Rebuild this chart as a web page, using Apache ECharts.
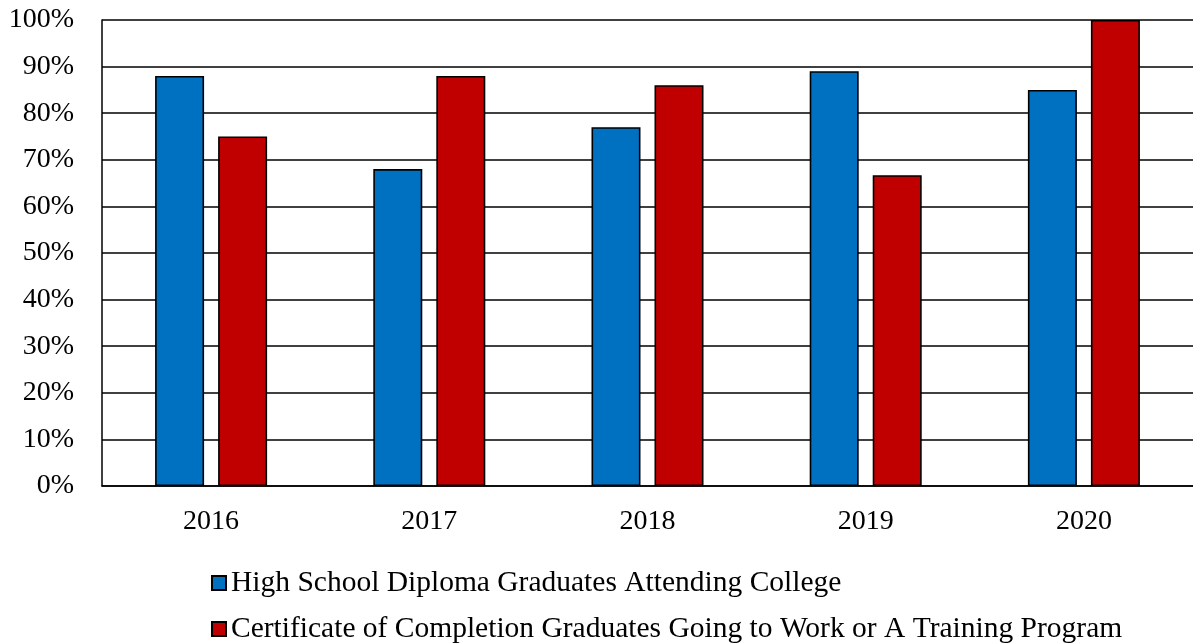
<!DOCTYPE html>
<html>
<head>
<meta charset="utf-8">
<script src="https://cdn.jsdelivr.net/npm/echarts@6/dist/echarts.min.js"></script>
<style>
html,body{margin:0;padding:0;background:#fff;}
#chart{width:1193px;height:643px;}
</style>
</head>
<body>
<div id="chart"></div>
<script>
const categories = ['2016', '2017', '2018', '2019', '2020'];
const seriesNames = [
  'High School Diploma Graduates Attending College',
  'Certificate of Completion Graduates Going to Work or A Training Program'
];
const diplomaCollege = [88, 68, 77, 89, 85];
const certificateWork = [75, 88, 86, 66.7, 100];
const yTicks = { min: 0, max: 100, interval: 10 };

const FONT = '"Liberation Serif", "Times New Roman", serif';
const legendBase = {
  orient: 'horizontal',
  left: 211,
  itemWidth: 14,
  itemHeight: 14,
  icon: 'rect',
  padding: 0,
  textStyle: { color: '#000', fontFamily: FONT, fontSize: 29.5, lineHeight: 30 }
};
const chart = echarts.init(document.getElementById('chart'), null, { renderer: 'canvas' });
chart.setOption({
  animation: false,
  backgroundColor: '#ffffff',
  grid: { left: 102, right: -6, top: 20, bottom: 157, containLabel: false },
  xAxis: {
    type: 'category',
    data: categories,
    axisLine: { show: true, lineStyle: { color: '#000', width: 1.5 } },
    axisTick: { show: false },
    axisLabel: { color: '#000', fontFamily: FONT, fontSize: 28, margin: 22 },
    splitLine: { show: false }
  },
  yAxis: {
    type: 'value',
    min: yTicks.min, max: yTicks.max, interval: yTicks.interval,
    axisLine: { show: true, lineStyle: { color: '#000', width: 1.5 } },
    axisTick: { show: false },
    axisLabel: { color: '#000', fontFamily: FONT, fontSize: 28, margin: 28, formatter: '{value}%' },
    splitLine: { show: true, lineStyle: { color: '#000', width: 1.5 } }
  },
  legend: [
    Object.assign({}, legendBase, { top: 568, data: [seriesNames[0]] }),
    Object.assign({}, legendBase, { top: 614, data: [seriesNames[1]] })
  ],
  series: [
    {
      name: seriesNames[0],
      type: 'bar',
      data: diplomaCollege,
      barWidth: 49,
      barGap: '28.6%',
      itemStyle: { color: '#0070C0', borderColor: '#000', borderWidth: 1.6 }
    },
    {
      name: seriesNames[1],
      type: 'bar',
      data: certificateWork,
      barWidth: 49,
      barGap: '28.6%',
      itemStyle: { color: '#C00000', borderColor: '#000', borderWidth: 1.6 }
    }
  ]
});
</script>
</body>
</html>
